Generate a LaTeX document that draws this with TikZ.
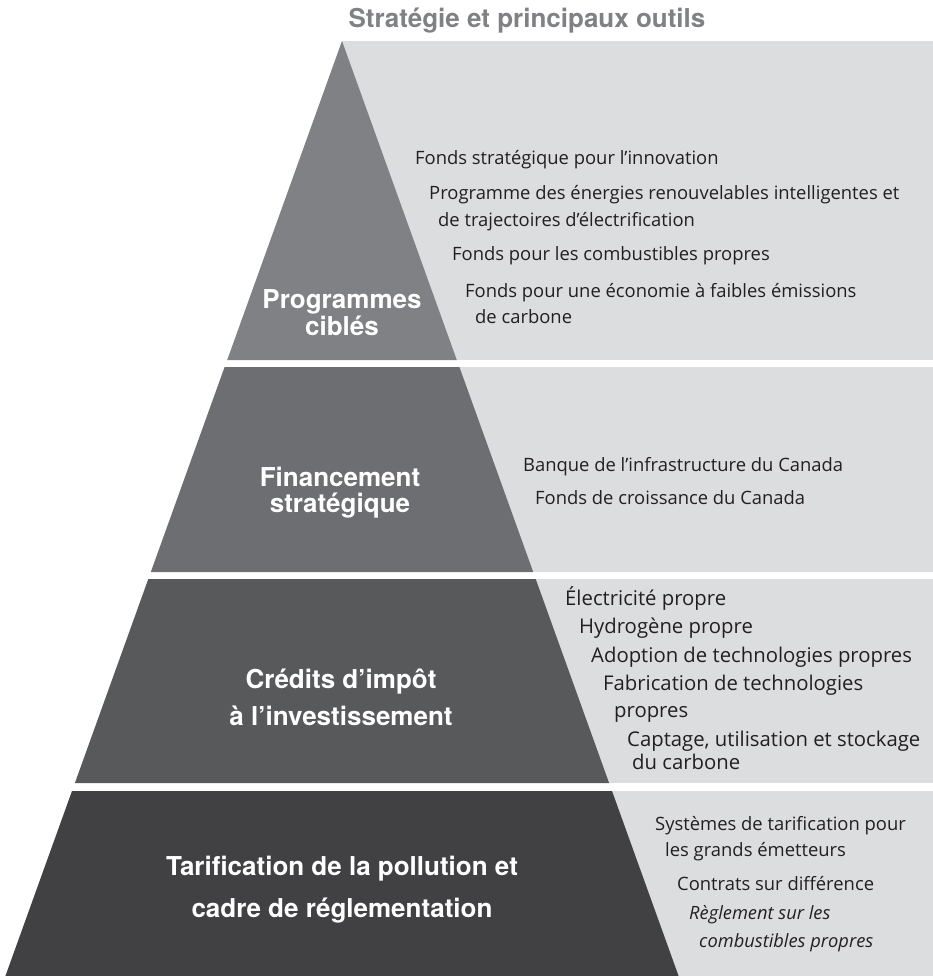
\documentclass[tikz,border=0pt]{standalone}
\usepackage{fontspec}
\setmainfont{Open Sans}
\newfontfamily\headfont{TeX Gyre Heros}
\definecolor{tierA}{HTML}{808184}
\definecolor{tierB}{HTML}{6D6E71}
\definecolor{tierC}{HTML}{58595B}
\definecolor{tierD}{HTML}{414042}
\definecolor{bandgray}{HTML}{DCDDDF}
\definecolor{itemtext}{HTML}{231F20}
\definecolor{titlegray}{HTML}{808184}
\begin{document}
\begin{tikzpicture}[x=1pt,y=-1pt,
  item/.style={anchor=base west, inner sep=0pt, text=itemtext, font=\fontsize{18.4}{22}\selectfont},
  itembig/.style={item, font=\fontsize{20.3}{24}\selectfont},
  itemit/.style={item, font=\fontsize{18.3}{22}\selectfont\itshape},
  head/.style={anchor=base, inner sep=0pt, text=white, align=center},
  band/.style={fill=bandgray}]
\useasboundingbox (0,0) rectangle (933,976);
% light bands
\fill[band] (342,41) rectangle (933,360);
\fill[band] (342,367) rectangle (933,572);
\fill[band] (342,579) rectangle (933,783);
\fill[band] (342,791) rectangle (933,976);
% tiers
\fill[tierA] (342,41) -- (456.8,360) -- (227.2,360) -- cycle;
\fill[tierB] (224.6,367) -- (459.4,367) -- (533.2,572) -- (150.8,572) -- cycle;
\fill[tierC] (148.3,579) -- (535.7,579) -- (609.1,783) -- (74.9,783) -- cycle;
\fill[tierD] (72,791) -- (612,791) -- (678.6,976) -- (5.4,976) -- cycle;
% title
\node[anchor=base, inner sep=0pt, text=titlegray, font=\headfont\bfseries\fontsize{26}{28}\selectfont] (title) at (527,28) {Stratégie et principaux outils};
% headings (anchor = baseline of last line)
\node[head, font=\headfont\bfseries\fontsize{26}{22}\selectfont] (h1) at (342,335) {Programmes\\ciblés};
\node[head, font=\headfont\bfseries\fontsize{26}{26}\selectfont] (h2) at (340,512) {Financement\\stratégique};
\node[head, font=\headfont\bfseries\fontsize{26}{37}\selectfont] (h3) at (341,725) {Crédits d’impôt\\à l’investissement};
\node[head, font=\headfont\bfseries\fontsize{26}{42}\selectfont] (h4) at (342,917) {Tarification de la pollution et\\cadre de réglementation};
% tier 1 items
\node[item] (a1) at (415,165) {Fonds stratégique pour l’innovation};
\node[item] (a2) at (429,200) {Programme des énergies renouvelables intelligentes et};
\node[item] (a2b) at (438,227) {de trajectoires d’électrification};
\node[item] (a3) at (452,260) {Fonds pour les combustibles propres};
\node[item] (a4) at (465,297) {Fonds pour une économie à faibles émissions};
\node[item] (a4b) at (475,323) {de carbone};
% tier 2 items
\node[item] (b1) at (523,471) {Banque de l’infrastructure du Canada};
\node[item] (b2) at (535,504) {Fonds de croissance du Canada};
% tier 3 items
\node[itembig] (c1) at (565,605) {Électricité propre};
\node[itembig] (c2) at (579,633) {Hydrogène propre};
\node[itembig] (c3) at (591,662) {Adoption de technologies propres};
\node[itembig] (c4) at (603,690) {Fabrication de technologies};
\node[itembig] (c4b) at (614,717) {propres};
\node[itembig] (c5) at (627,746) {Captage, utilisation et stockage};
\node[itembig] (c5b) at (632,769) {du carbone};
% tier 4 items
\node[item] (d1) at (655,830) {Systèmes de tarification pour};
\node[item] (d1b) at (665,856) {les grands émetteurs};
\node[item] (d2) at (677,890) {Contrats sur différence};
\node[itemit] (d3) at (689,919) {Règlement sur les};
\node[itemit] (d3b) at (699,947) {combustibles propres};
\end{tikzpicture}
\end{document}
